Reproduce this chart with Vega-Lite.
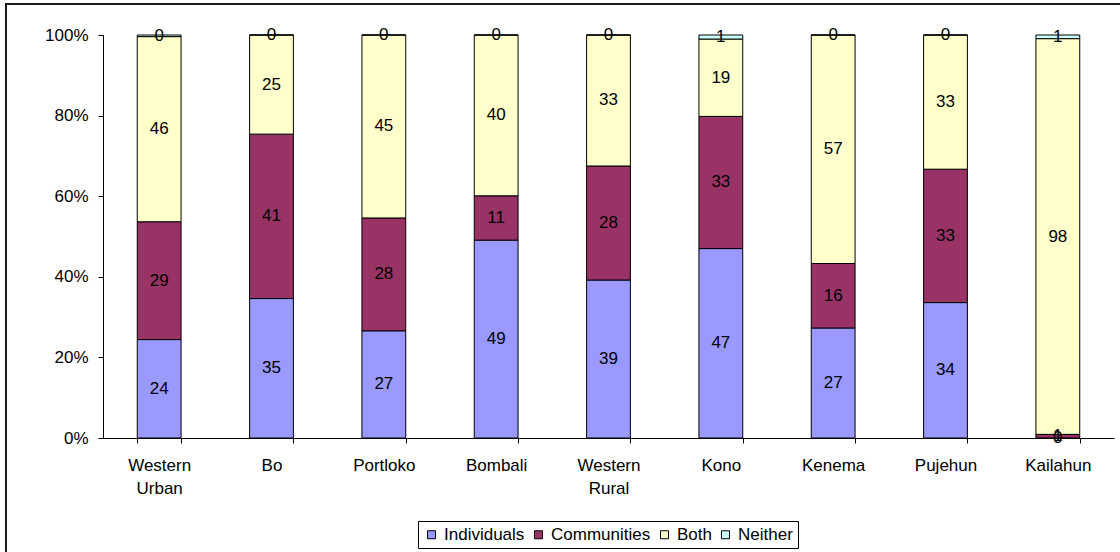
{
  "$schema": "https://vega.github.io/schema/vega-lite/v6.json",
  "width": 1120,
  "height": 552,
  "autosize": {"type": "none"},
  "padding": {"left": 6, "top": 4, "right": 0, "bottom": 0},
  "background": "white",
  "config": {
    "view": {"stroke": "#1a1a1a", "strokeWidth": 2},
    "font": "Liberation Sans",
    "axis": {"grid": false, "domainColor": "black", "tickColor": "black", "labelColor": "black", "labelFont": "Liberation Sans", "labelFontSize": 17, "title": null}
  },
  "data": {
    "values": [
      {"district": "Western Urban", "category": "Individuals", "order": 1, "value": 24.4},
      {"district": "Western Urban", "category": "Communities", "order": 2, "value": 29.2},
      {"district": "Western Urban", "category": "Both", "order": 3, "value": 45.9},
      {"district": "Western Urban", "category": "Neither", "order": 4, "value": 0.4},
      {"district": "Bo", "category": "Individuals", "order": 1, "value": 34.6},
      {"district": "Bo", "category": "Communities", "order": 2, "value": 40.8},
      {"district": "Bo", "category": "Both", "order": 3, "value": 24.6},
      {"district": "Bo", "category": "Neither", "order": 4, "value": 0},
      {"district": "Portloko", "category": "Individuals", "order": 1, "value": 26.6},
      {"district": "Portloko", "category": "Communities", "order": 2, "value": 28.0},
      {"district": "Portloko", "category": "Both", "order": 3, "value": 45.4},
      {"district": "Portloko", "category": "Neither", "order": 4, "value": 0},
      {"district": "Bombali", "category": "Individuals", "order": 1, "value": 49.1},
      {"district": "Bombali", "category": "Communities", "order": 2, "value": 11.0},
      {"district": "Bombali", "category": "Both", "order": 3, "value": 39.9},
      {"district": "Bombali", "category": "Neither", "order": 4, "value": 0},
      {"district": "Western Rural", "category": "Individuals", "order": 1, "value": 39.2},
      {"district": "Western Rural", "category": "Communities", "order": 2, "value": 28.3},
      {"district": "Western Rural", "category": "Both", "order": 3, "value": 32.5},
      {"district": "Western Rural", "category": "Neither", "order": 4, "value": 0},
      {"district": "Kono", "category": "Individuals", "order": 1, "value": 47.0},
      {"district": "Kono", "category": "Communities", "order": 2, "value": 32.8},
      {"district": "Kono", "category": "Both", "order": 3, "value": 19.2},
      {"district": "Kono", "category": "Neither", "order": 4, "value": 1.0},
      {"district": "Kenema", "category": "Individuals", "order": 1, "value": 27.3},
      {"district": "Kenema", "category": "Communities", "order": 2, "value": 16.0},
      {"district": "Kenema", "category": "Both", "order": 3, "value": 56.7},
      {"district": "Kenema", "category": "Neither", "order": 4, "value": 0},
      {"district": "Pujehun", "category": "Individuals", "order": 1, "value": 33.6},
      {"district": "Pujehun", "category": "Communities", "order": 2, "value": 33.1},
      {"district": "Pujehun", "category": "Both", "order": 3, "value": 33.3},
      {"district": "Pujehun", "category": "Neither", "order": 4, "value": 0},
      {"district": "Kailahun", "category": "Individuals", "order": 1, "value": 0},
      {"district": "Kailahun", "category": "Communities", "order": 2, "value": 0.9},
      {"district": "Kailahun", "category": "Both", "order": 3, "value": 98.2},
      {"district": "Kailahun", "category": "Neither", "order": 4, "value": 0.9}
    ]
  },
  "transform": [
    {"stack": "value", "groupby": ["district"], "offset": "normalize", "sort": [{"field": "order", "order": "ascending"}], "as": ["y0", "y1"]},
    {"calculate": "(datum.y0 + datum.y1) / 2", "as": "ymid"}
  ],
  "encoding": {
    "x": {
      "field": "district",
      "type": "nominal",
      "sort": ["Western Urban", "Bo", "Portloko", "Bombali", "Western Rural", "Kono", "Kenema", "Pujehun", "Kailahun"],
      "scale": {"range": [97, 1108], "paddingInner": 0.61, "paddingOuter": 0.305},
      "axis": {"orient": "bottom", "offset": -118, "labelAngle": 0, "tickBand": "extent", "tickSize": 5, "labelPadding": 14, "labelLineHeight": 23, "labelExpr": "split(datum.label, ' ')", "domainWidth": 1, "tickWidth": 1}
    },
    "y": {"field": "y0", "type": "quantitative", "scale": {"domain": [0, 1], "range": [434, 31], "nice": false},
      "axis": {"orient": "left", "offset": -97, "values": [0, 0.2, 0.4, 0.6, 0.8, 1], "format": ".0%", "tickSize": 5, "labelPadding": 10}}
  },
  "layer": [
    {
      "mark": {"type": "bar", "stroke": "black", "strokeWidth": 1},
      "encoding": {
        "y2": {"field": "y1"},
        "color": {
          "field": "category",
          "type": "nominal",
          "sort": ["Individuals", "Communities", "Both", "Neither"],
          "scale": {"domain": ["Individuals", "Communities", "Both", "Neither"], "range": ["#9999FF", "#993366", "#FFFFCC", "#CCFFFF"]},
          "legend": {"orient": "none", "legendX": 412, "legendY": 517, "direction": "horizontal", "columns": 4, "title": null,
            "strokeColor": "black", "padding": 5, "symbolType": "square", "symbolSize": 64, "symbolStrokeColor": "black", "symbolStrokeWidth": 1,
            "labelFont": "Liberation Sans", "labelFontSize": 17, "labelColor": "black", "labelOffset": 4, "columnPadding": 5, "fillColor": "white"}
        }
      }
    },
    {
      "mark": {"type": "text", "font": "Liberation Sans", "fontSize": 17, "color": "black", "align": "center", "baseline": "middle"},
      "encoding": {
        "y": {"field": "ymid", "type": "quantitative"},
        "text": {"field": "value", "type": "quantitative", "format": ".0f"}
      }
    }
  ]
}
